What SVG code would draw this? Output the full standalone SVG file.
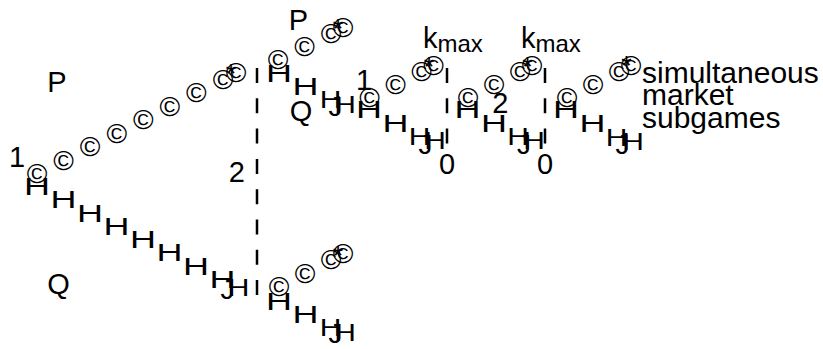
<svg xmlns="http://www.w3.org/2000/svg" width="823" height="349" viewBox="0 0 823 349">
<style>
text { font-family: "Liberation Sans", Arial, sans-serif; fill: #000; }
.c, .h, .he, .j, .a { font-size: 24px; text-anchor: middle; }
.c { font-size: 28px; }
.a { font-size: 27px; }
.j { font-size: 28px; }
.h, .he { transform-box: fill-box; transform-origin: center; }
.h { transform: scaleX(1.5); }
.he { transform: scaleX(1.25); }
.l { font-size: 29px; }
.sub { font-size: 24px; }
.t { font-size: 30px; }
.d { stroke: #000; stroke-width: 2.5; stroke-dasharray: 15 15.3; fill: none; }
</style>
<rect width="823" height="349" fill="#fff"/>
<g id="connectors">
  <g id="infoset-2">
    <line class="d" x1="257" y1="68" x2="257" y2="296"/>
  </g>
  <g id="infoset-kmax-1">
    <line class="d" x1="447" y1="68" x2="447" y2="144"/>
  </g>
  <g id="infoset-kmax-2">
    <line class="d" x1="545" y1="68" x2="545" y2="144"/>
  </g>
  <g id="edge-1-P">
    <text class="c" x="37" y="182.9">©</text>
    <text class="c" x="63.6" y="169.5">©</text>
    <text class="c" x="90.1" y="156">©</text>
    <text class="c" x="116.7" y="142.6">©</text>
    <text class="c" x="143.3" y="129.2">©</text>
    <text class="c" x="169.9" y="115.7">©</text>
    <text class="c" x="196.4" y="102.3">©</text>
    <text class="c" x="223" y="88.9">©</text>
    <text class="c" x="236" y="81.9">©</text>
    <text class="a" x="231" y="83">*</text>
  </g>
  <g id="edge-1-Q">
    <text class="h" x="37" y="195">H</text>
    <text class="h" x="63.5" y="208.3">H</text>
    <text class="h" x="90" y="221.6">H</text>
    <text class="h" x="116.5" y="234.9">H</text>
    <text class="h" x="143" y="248.2">H</text>
    <text class="h" x="169.5" y="261.5">H</text>
    <text class="h" x="196" y="274.8">H</text>
    <text class="h" x="222.5" y="288.1">H</text>
    <text class="j" x="227.4" y="299">J</text>
    <text class="he" x="238.5" y="296">H</text>
  </g>
  <g id="edge-2up-P">
    <text class="c" x="278" y="68.9">©</text>
    <text class="c" x="304.5" y="55.9">©</text>
    <text class="c" x="331" y="42.9">©</text>
    <text class="c" x="343" y="36.9">©</text>
    <text class="a" x="338" y="38">*</text>
  </g>
  <g id="edge-2up-Q">
    <text class="h" x="279" y="82">H</text>
    <text class="h" x="305.5" y="95">H</text>
    <text class="he" x="330.5" y="108">H</text>
    <text class="j" x="335.5" y="116">J</text>
    <text class="he" x="345" y="113">H</text>
  </g>
  <g id="edge-2low-P">
    <text class="c" x="279" y="295.9">©</text>
    <text class="c" x="305" y="282.6">©</text>
    <text class="c" x="331" y="269.3">©</text>
    <text class="c" x="343" y="263.4">©</text>
    <text class="a" x="338" y="264.5">*</text>
  </g>
  <g id="edge-2low-Q">
    <text class="h" x="279" y="310">H</text>
    <text class="h" x="305.5" y="323">H</text>
    <text class="he" x="330.5" y="336">H</text>
    <text class="j" x="335.5" y="343">J</text>
    <text class="he" x="345" y="341">H</text>
  </g>
  <g id="edge-sub1-up">
    <text class="c" x="369.5" y="106.9">©</text>
    <text class="c" x="395.5" y="93.9">©</text>
    <text class="c" x="421.5" y="80.9">©</text>
    <text class="c" x="433.5" y="74.9">©</text>
    <text class="a" x="429" y="76">*</text>
  </g>
  <g id="edge-sub1-down">
    <text class="h" x="369" y="118">H</text>
    <text class="h" x="395.5" y="132">H</text>
    <text class="he" x="419.5" y="145">H</text>
    <text class="j" x="425.5" y="153.5">J</text>
    <text class="he" x="435" y="149">H</text>
  </g>
  <g id="edge-sub2-up">
    <text class="c" x="468" y="106.9">©</text>
    <text class="c" x="494" y="93.9">©</text>
    <text class="c" x="520" y="80.9">©</text>
    <text class="c" x="532" y="75.4">©</text>
    <text class="a" x="527.5" y="76">*</text>
  </g>
  <g id="edge-sub2-down">
    <text class="h" x="467.5" y="118">H</text>
    <text class="h" x="494" y="132">H</text>
    <text class="he" x="518" y="145">H</text>
    <text class="j" x="524" y="153.5">J</text>
    <text class="he" x="534" y="149">H</text>
  </g>
  <g id="edge-sub3-up">
    <text class="c" x="567" y="106.9">©</text>
    <text class="c" x="593" y="93.9">©</text>
    <text class="c" x="619" y="80.9">©</text>
    <text class="c" x="631" y="74.9">©</text>
    <text class="a" x="626.5" y="75">*</text>
  </g>
  <g id="edge-sub3-down">
    <text class="h" x="566" y="118">H</text>
    <text class="h" x="592.5" y="132">H</text>
    <text class="he" x="616.5" y="146">H</text>
    <text class="j" x="622.5" y="154">J</text>
    <text class="he" x="633" y="150">H</text>
  </g>
</g>
<g id="node-1"><text class="l" x="9" y="167">1</text></g>
<g id="node-P1"><text class="l" x="47.3" y="92">P</text></g>
<g id="node-Q1"><text class="l" x="47.2" y="294">Q</text></g>
<g id="node-2"><text class="l" x="228.8" y="182">2</text></g>
<g id="node-P2"><text class="l" x="288.8" y="30">P</text></g>
<g id="node-Q2"><text class="l" x="289.7" y="121">Q</text></g>
<g id="node-sub1"><text class="l" x="356" y="90">1</text></g>
<g id="node-kmax1"><text class="l" x="423" y="48">k<tspan class="sub" y="52">max</tspan></text></g>
<g id="node-zero1"><text class="l" x="439" y="174">0</text></g>
<g id="node-sub2"><text class="l" x="492.3" y="113">2</text></g>
<g id="node-kmax2"><text class="l" x="521" y="48">k<tspan class="sub" y="52">max</tspan></text></g>
<g id="node-zero2"><text class="l" x="537" y="174">0</text></g>
<g id="node-label"><text class="t"><tspan x="642" y="83">simultaneous</tspan><tspan x="642" y="105">market</tspan><tspan x="642" y="128">subgames</tspan></text></g>
</svg>
